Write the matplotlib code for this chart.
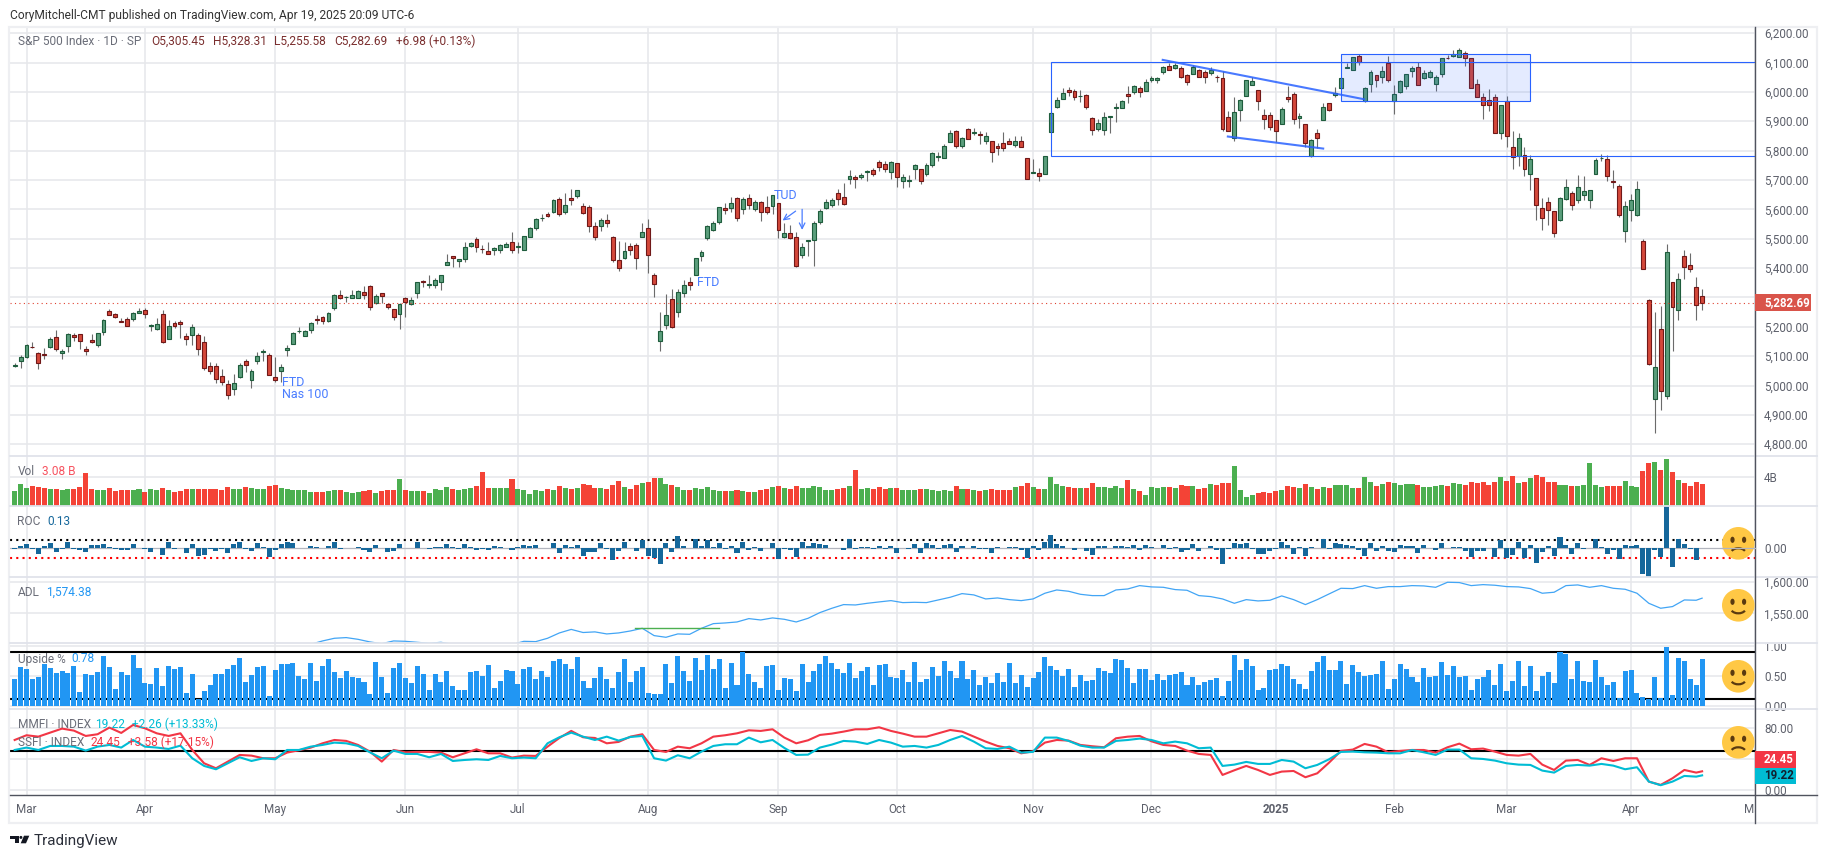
import numpy as np
import matplotlib
matplotlib.use("Agg")
import matplotlib.pyplot as plt
from matplotlib.patches import Rectangle, Ellipse, Arc, Polygon, Circle
from matplotlib.transforms import Bbox

plt.rcParams["font.family"] = ["Roboto", "DejaVu Sans"]

W, H = 1827, 858

# --- S&P 500 daily candles ---
opens = [
    5068, 5085, 5098, 5131, 5110, 5108, 5132, 5164, 5111, 5134,
    5173, 5175, 5123, 5154, 5139, 5181, 5253, 5243, 5220, 5228,
    5226, 5248, 5258, 5204, 5194, 5244, 5158, 5212, 5217, 5167,
    5172, 5171, 5149, 5065, 5068, 5032, 5005, 4988, 5028, 5084,
    5019, 5084, 5114, 5103, 5029, 5049, 5122, 5142, 5187, 5168,
    5189, 5225, 5233, 5221, 5263, 5310, 5303, 5298, 5298, 5319,
    5340, 5281, 5315, 5278, 5259, 5243, 5297, 5278, 5314, 5357,
    5343, 5341, 5353, 5409, 5441, 5424, 5431, 5476, 5499, 5466,
    5459, 5460, 5460, 5473, 5488, 5471, 5461, 5507, 5537, 5572,
    5584, 5591, 5635, 5590, 5638, 5644, 5610, 5608, 5544, 5544,
    5565, 5505, 5428, 5433, 5476, 5478, 5505, 5537, 5376, 5151,
    5206, 5293, 5252, 5314, 5351, 5376, 5442, 5501, 5530, 5557,
    5604, 5603, 5637, 5602, 5639, 5602, 5624, 5607, 5612, 5623,
    5506, 5520, 5507, 5443, 5491, 5496, 5557, 5603, 5615, 5655,
    5641, 5702, 5709, 5711, 5727, 5733, 5762, 5755, 5727, 5757,
    5698, 5698, 5737, 5737, 5719, 5751, 5778, 5775, 5829, 5866,
    5816, 5872, 5859, 5857, 5832, 5834, 5817, 5826, 5833, 5819,
    5833, 5775, 5723, 5725, 5722, 5864, 5947, 5976, 6008, 6003,
    5985, 5989, 5912, 5875, 5870, 5914, 5945, 5944, 5992, 6000,
    6014, 6003, 6040, 6042, 6069, 6089, 6081, 6083, 6057, 6060,
    6074, 6068, 6063, 6052, 6047, 5913, 5842, 5940, 5985, 6024,
    6006, 5920, 5920, 5903, 5891, 5982, 5993, 5911, 5890, 5782,
    5859, 5905, 5962, 5990, 6014, 6081, 6076, 6121, 5969, 6026,
    6057, 6050, 6098, 5969, 6000, 6020, 6071, 6084, 6046, 6050,
    6026, 6060, 6115, 6121, 6118, 6134, 6115, 6026, 5982, 5972,
    5982, 5860, 5968, 5811, 5781, 5785, 5720, 5706, 5604, 5624,
    5594, 5563, 5635, 5655, 5632, 5648, 5632, 5719, 5775, 5771,
    5696, 5679, 5527, 5597, 5580, 5492, 5292, 4953, 5193, 4965,
    5353, 5256, 5441, 5412, 5335, 5305.45,
]
highs = [
    5077, 5104, 5140, 5149, 5114, 5127, 5165, 5189, 5124, 5179,
    5179, 5176, 5136, 5175, 5180, 5226, 5261, 5246, 5229, 5235,
    5250, 5265, 5264, 5209, 5229, 5256, 5222, 5219, 5224, 5178,
    5211, 5178, 5168, 5079, 5078, 5056, 5019, 5038, 5076, 5089,
    5057, 5114, 5124, 5110, 5096, 5073, 5139, 5181, 5200, 5190,
    5215, 5239, 5237, 5250, 5311, 5325, 5306, 5325, 5324, 5340,
    5341, 5311, 5315, 5282, 5260, 5280, 5302, 5302, 5354, 5361,
    5375, 5365, 5376, 5447, 5441, 5432, 5488, 5490, 5505, 5478,
    5490, 5472, 5483, 5490, 5523, 5490, 5509, 5539, 5570, 5583,
    5590, 5635, 5642, 5655, 5670, 5667, 5622, 5614, 5556, 5570,
    5585, 5508, 5491, 5488, 5487, 5487, 5555, 5566, 5383, 5250,
    5313, 5330, 5328, 5360, 5371, 5436, 5463, 5547, 5561, 5608,
    5621, 5643, 5643, 5641, 5651, 5631, 5627, 5646, 5648, 5623,
    5552, 5547, 5522, 5485, 5497, 5561, 5600, 5636, 5637, 5670,
    5689, 5733, 5716, 5725, 5735, 5741, 5767, 5765, 5765, 5757,
    5719, 5718, 5753, 5739, 5757, 5796, 5795, 5822, 5871, 5871,
    5846, 5878, 5878, 5866, 5863, 5834, 5826, 5862, 5842, 5850,
    5850, 5775, 5772, 5741, 5783, 5936, 5983, 6012, 6017, 6010,
    6008, 5993, 5915, 5908, 5932, 5919, 5963, 5972, 6020, 6025,
    6020, 6044, 6053, 6050, 6089, 6099, 6099, 6088, 6061, 6092,
    6079, 6074, 6085, 6057, 6070, 5935, 5982, 5975, 6040, 6050,
    6006, 5941, 5931, 5903, 5948, 6021, 5999, 5927, 5890, 5839,
    5873, 5962, 5962, 6016, 6051, 6100, 6118, 6128, 6016, 6075,
    6057, 6089, 6122, 6024, 6042, 6061, 6089, 6103, 6075, 6075,
    6058, 6115, 6127, 6141, 6149, 6138, 6115, 6044, 5996, 6010,
    5992, 5955, 5987, 5868, 5860, 5814, 5785, 5706, 5638, 5643,
    5594, 5641, 5704, 5661, 5717, 5714, 5667, 5775, 5788, 5786,
    5735, 5687, 5627, 5652, 5697, 5498, 5294, 5249, 5270, 5483,
    5353, 5383, 5462, 5451, 5369, 5328.31,
]
lows = [
    5062, 5061, 5094, 5127, 5056, 5092, 5128, 5117, 5091, 5114,
    5151, 5125, 5104, 5145, 5131, 5171, 5240, 5229, 5216, 5203,
    5219, 5246, 5230, 5184, 5189, 5146, 5157, 5197, 5161, 5138,
    5139, 5103, 5052, 5039, 5008, 5001, 4953, 4969, 5027, 5047,
    4990, 5073, 5085, 5035, 5013, 5011, 5101, 5142, 5178, 5168,
    5180, 5209, 5211, 5217, 5256, 5296, 5284, 5297, 5297, 5295,
    5256, 5278, 5280, 5262, 5222, 5191, 5234, 5273, 5297, 5336,
    5331, 5331, 5327, 5409, 5403, 5403, 5420, 5471, 5455, 5452,
    5447, 5446, 5451, 5471, 5452, 5451, 5461, 5507, 5530, 5562,
    5574, 5586, 5576, 5583, 5614, 5640, 5584, 5522, 5497, 5525,
    5540, 5419, 5390, 5430, 5444, 5397, 5505, 5383, 5302, 5119,
    5193, 5195, 5233, 5300, 5325, 5376, 5425, 5497, 5525, 5550,
    5585, 5591, 5560, 5585, 5600, 5593, 5560, 5583, 5585, 5504,
    5503, 5498, 5402, 5434, 5441, 5406, 5550, 5600, 5607, 5614,
    5615, 5686, 5674, 5705, 5698, 5714, 5729, 5727, 5704, 5677,
    5674, 5677, 5702, 5686, 5714, 5745, 5764, 5775, 5829, 5808,
    5808, 5840, 5852, 5824, 5821, 5762, 5784, 5799, 5823, 5811,
    5811, 5702, 5723, 5696, 5722, 5864, 5945, 5976, 5986, 5971,
    5964, 5942, 5853, 5866, 5853, 5860, 5899, 5944, 5963, 5992,
    5984, 6003, 6035, 6031, 6061, 6075, 6079, 6048, 6024, 6060,
    6051, 6030, 6059, 6035, 5867, 5866, 5832, 5902, 5985, 6023,
    5937, 5873, 5870, 5831, 5890, 5964, 5891, 5877, 5814, 5778,
    5808, 5904, 5935, 5981, 6012, 6080, 6076, 6091, 5964, 5998,
    6015, 6030, 6033, 5925, 5995, 6009, 6050, 6024, 6044, 6047,
    6004, 6052, 6111, 6120, 6118, 6087, 6013, 5982, 5909, 5935,
    5862, 5841, 5814, 5737, 5746, 5715, 5666, 5564, 5530, 5547,
    5507, 5562, 5632, 5598, 5623, 5632, 5606, 5720, 5763, 5698,
    5674, 5575, 5490, 5562, 5576, 5396, 5070, 4838, 4915, 4954,
    5118, 5224, 5362, 5388, 5224, 5255.58,
]
closes = [
    5070, 5096, 5137, 5130, 5078, 5104, 5157, 5123, 5117, 5175,
    5165, 5150, 5117, 5149, 5178, 5224, 5241, 5234, 5218, 5203,
    5248, 5254, 5243, 5205, 5211, 5147, 5204, 5202, 5209, 5160,
    5199, 5123, 5061, 5051, 5022, 5011, 4967, 5010, 5071, 5071,
    5048, 5099, 5116, 5035, 5018, 5064, 5127, 5180, 5187, 5187,
    5214, 5222, 5221, 5246, 5308, 5297, 5303, 5308, 5321, 5307,
    5267, 5304, 5306, 5266, 5235, 5277, 5283, 5291, 5354, 5352,
    5346, 5360, 5375, 5421, 5433, 5431, 5473, 5487, 5473, 5464,
    5447, 5469, 5477, 5482, 5460, 5475, 5509, 5537, 5567, 5572,
    5576, 5633, 5584, 5615, 5631, 5667, 5588, 5544, 5505, 5564,
    5555, 5427, 5399, 5459, 5463, 5436, 5522, 5446, 5346, 5186,
    5240, 5199, 5319, 5344, 5344, 5434, 5455, 5543, 5554, 5608,
    5597, 5620, 5570, 5634, 5616, 5625, 5592, 5591, 5648, 5528,
    5520, 5503, 5408, 5471, 5496, 5554, 5596, 5626, 5633, 5634,
    5618, 5713, 5702, 5718, 5732, 5722, 5745, 5738, 5762, 5709,
    5709, 5699, 5751, 5695, 5751, 5792, 5780, 5815, 5859, 5815,
    5842, 5841, 5864, 5853, 5851, 5797, 5809, 5808, 5823, 5832,
    5813, 5705, 5728, 5712, 5782, 5929, 5973, 5995, 6001, 5983,
    5985, 5949, 5870, 5893, 5916, 5917, 5948, 5969, 5987, 6021,
    5998, 6032, 6047, 6049, 6086, 6075, 6090, 6052, 6034, 6084,
    6051, 6051, 6074, 6050, 5872, 5867, 5930, 5974, 6040, 6037,
    5970, 5906, 5881, 5868, 5942, 5975, 5909, 5918, 5827, 5836,
    5842, 5949, 5937, 5996, 6049, 6086, 6118, 6101, 6012, 6067,
    6039, 6071, 6040, 5994, 6037, 6061, 6083, 6025, 6066, 6068,
    6051, 6115, 6114, 6129, 6144, 6117, 6013, 5983, 5955, 5956,
    5861, 5954, 5849, 5778, 5842, 5738, 5770, 5614, 5572, 5599,
    5521, 5638, 5675, 5614, 5675, 5662, 5667, 5767, 5776, 5712,
    5693, 5580, 5611, 5633, 5670, 5396, 5074, 5062, 4982, 5456,
    5268, 5363, 5405, 5396, 5275, 5282.69,
]

# --- volume, billions ---
volume = [
    2.09, 3.02, 2.51, 2.74, 2.65, 2.51, 2.37, 2.37, 2.23, 2.33,
    2.37, 2.6, 4.56, 2.37, 2.23, 2.23, 2.51, 2.09, 2.19, 2.23,
    2.28, 2.33, 1.95, 2.33, 2.23, 2.51, 2.23, 2.0, 2.14, 2.33,
    2.33, 2.33, 2.37, 2.37, 2.37, 2.23, 2.65, 2.37, 2.33, 2.6,
    2.47, 2.37, 2.33, 2.74, 2.93, 2.47, 2.37, 2.23, 2.23, 2.23,
    1.95, 1.95, 1.95, 2.09, 2.23, 2.19, 1.95, 1.86, 1.91, 2.09,
    2.23, 1.81, 2.05, 2.19, 2.23, 3.72, 2.19, 2.05, 2.05, 2.05,
    1.81, 2.33, 2.28, 2.6, 2.37, 2.23, 2.33, 2.47, 2.79, 4.74,
    2.56, 2.51, 2.51, 2.51, 3.77, 2.37, 2.23, 1.67, 2.19, 2.09,
    2.37, 2.23, 2.84, 2.51, 2.37, 2.51, 3.07, 2.93, 2.51, 2.51,
    2.37, 2.93, 3.49, 2.65, 2.37, 2.93, 3.16, 3.35, 3.91, 3.91,
    3.07, 2.93, 2.65, 2.23, 2.23, 2.51, 2.37, 2.65, 2.23, 2.09,
    2.09, 2.09, 2.23, 2.09, 1.95, 1.95, 2.23, 2.37, 2.65, 2.79,
    2.51, 2.37, 2.79, 2.51, 2.51, 2.79, 2.65, 2.23, 2.23, 2.37,
    2.51, 2.79, 5.02, 2.37, 2.51, 2.37, 2.65, 2.37, 2.51, 2.51,
    2.23, 2.23, 2.23, 2.37, 2.37, 2.23, 2.09, 2.23, 2.09, 2.79,
    2.37, 2.37, 2.23, 2.09, 2.23, 2.37, 2.23, 2.23, 2.23, 2.65,
    2.79, 3.21, 2.65, 2.37, 2.37, 4.05, 3.07, 2.79, 2.65, 2.51,
    2.51, 2.51, 3.21, 2.65, 2.65, 2.51, 2.79, 2.51, 3.63, 2.37,
    2.09, 1.53, 2.65, 2.51, 2.65, 2.65, 2.51, 2.93, 2.79, 2.79,
    2.37, 2.51, 3.07, 2.93, 3.21, 3.21, 5.58, 2.23, 1.26, 1.53,
    1.81, 1.95, 1.81, 2.09, 2.23, 2.74, 2.65, 2.51, 3.07, 2.65,
    2.37, 2.65, 2.51, 2.93, 2.93, 2.93, 2.51, 2.51, 4.05, 3.35,
    2.79, 3.07, 3.35, 3.21, 2.93, 3.07, 3.07, 2.93, 2.65, 2.65,
    2.79, 2.93, 2.79, 3.21, 3.07, 2.93, 3.35, 3.21, 3.35, 2.93,
    3.35, 4.05, 3.49, 4.19, 3.21, 3.35, 3.91, 4.33, 4.05, 3.35,
    3.35, 2.93, 2.93, 2.79, 2.79, 2.93, 6.0, 2.93, 2.65, 2.79,
    2.79, 2.79, 3.49, 2.79, 2.65, 4.88, 6.0, 6.14, 5.02, 6.56,
    4.74, 3.63, 3.21, 2.79, 3.35, 3.07,
]

# --- rate of change, percent ---
roc = [
    -0.17, 0.52, 0.80, -0.12, -1.02, 0.51, 1.03, -0.65, -0.11, 1.12,
    -0.19, -0.29, -0.65, 0.63, 0.56, 0.89, 0.32, -0.14, -0.31, -0.28,
    0.86, 0.11, -0.20, -0.72, 0.11, -1.23, 1.11, -0.04, 0.14, -0.95,
    0.74, -1.46, -1.20, -0.21, -0.58, -0.22, -0.88, 0.87, 1.20, -0.05,
    -0.46, 1.02, 0.32, -1.57, -0.34, 0.91, 1.26, 1.03, 0.13, -0.00,
    0.51, 0.16, -0.02, 0.48, 1.17, -0.21, 0.12, 0.09, 0.25, -0.27,
    -0.74, 0.70, 0.02, -0.74, -0.60, 0.80, 0.11, 0.15, 1.18, -0.02,
    -0.11, 0.26, 0.27, 0.85, 0.23, -0.04, 0.77, 0.25, -0.25, -0.16,
    -0.31, 0.39, 0.16, 0.09, -0.41, 0.27, 0.62, 0.51, 0.54, 0.10,
    0.07, 1.02, -0.88, 0.55, 0.28, 0.64, -1.39, -0.78, -0.71, 1.08,
    -0.16, -2.31, -0.51, 1.11, 0.08, -0.50, 1.58, -1.37, -1.84, -3.00,
    1.04, -0.77, 2.30, 0.47, -0.00, 1.68, 0.38, 1.61, 0.20, 0.97,
    -0.20, 0.42, -0.89, 1.15, -0.32, 0.16, -0.60, -0.00, 1.01, -2.12,
    -0.16, -0.30, -1.73, 1.16, 0.45, 1.07, 0.75, 0.54, 0.13, 0.03,
    -0.29, 1.70, -0.19, 0.28, 0.25, -0.19, 0.40, -0.13, 0.42, -0.93,
    0.01, -0.17, 0.90, -0.96, 0.97, 0.71, -0.21, 0.61, 0.77, -0.76,
    0.47, -0.02, 0.40, -0.18, -0.05, -0.92, 0.21, -0.03, 0.27, 0.16,
    -0.33, -1.86, 0.41, -0.28, 1.23, 2.53, 0.74, 0.38, 0.10, -0.29,
    0.02, -0.60, -1.32, 0.39, 0.40, 0.00, 0.53, 0.35, 0.30, 0.57,
    -0.38, 0.56, 0.24, 0.05, 0.61, -0.19, 0.25, -0.61, -0.30, 0.82,
    -0.54, -0.00, 0.38, -0.39, -2.95, -0.09, 1.09, 0.73, 1.10, -0.04,
    -1.11, -1.07, -0.43, -0.22, 1.26, 0.55, -1.11, 0.16, -1.54, 0.16,
    0.11, 1.83, -0.21, 1.00, 0.88, 0.61, 0.53, -0.29, -1.46, 0.92,
    -0.47, 0.53, -0.50, -0.76, 0.72, 0.39, 0.36, -0.95, 0.67, 0.03,
    -0.27, 1.04, -0.01, 0.24, 0.24, -0.43, -1.71, -0.50, -0.47, 0.01,
    -1.59, 1.59, -1.76, -1.22, 1.12, -1.78, 0.55, -2.70, -0.76, 0.49,
    -1.39, 2.13, 0.64, -1.07, 1.08, -0.22, 0.08, 1.76, 0.16, -1.12,
    -0.33, -1.97, 0.55, 0.38, 0.67, -4.84, -5.97, -0.23, -1.57, 9.52,
    -3.46, 1.81, 0.79, -0.17, -2.24, 0.13,
]

# --- upside volume share ---
upside = [
    .45, .65, .62, .45, .48, .70, .63, .55, .58, .55,
    .67, .23, .53, .52, .57, .83, .65, .28, .57, .52,
    .85, .63, .38, .37, .63, .33, .67, .62, .65, .22,
    .53, .12, .25, .35, .53, .53, .62, .68, .80, .40,
    .52, .65, .67, .17, .60, .70, .70, .72, .50, .45,
    .72, .42, .67, .78, .57, .47, .58, .48, .47, .40,
    .20, .73, .48, .22, .63, .72, .47, .38, .67, .53,
    .27, .53, .40, .58, .33, .27, .27, .57, .58, .50,
    .68, .30, .42, .60, .58, .37, .62, .65, .45, .58,
    .48, .75, .78, .70, .62, .82, .42, .30, .47, .65,
    .45, .30, .57, .78, .40, .58, .65, .22, .20, .20,
    .70, .38, .83, .58, .42, .80, .60, .85, .62, .78,
    .30, .72, .35, .90, .53, .40, .30, .67, .68, .27,
    .47, .45, .25, .70, .40, .58, .70, .83, .72, .62,
    .55, .72, .47, .58, .65, .35, .68, .70, .48, .47,
    .60, .40, .73, .40, .45, .65, .50, .75, .58, .47,
    .75, .45, .60, .35, .48, .38, .55, .40, .72, .38,
    .52, .32, .47, .57, .82, .67, .60, .50, .62, .32,
    .52, .42, .43, .63, .58, .55, .78, .77, .63, .38,
    .62, .62, .43, .53, .43, .52, .53, .57, .35, .48,
    .35, .40, .43, .47, .17, .42, .85, .60, .78, .67,
    .27, .30, .60, .62, .70, .67, .45, .37, .28, .58,
    .73, .83, .60, .60, .75, .37, .68, .57, .50, .52,
    .53, .75, .28, .45, .70, .62, .48, .40, .63, .48,
    .50, .73, .52, .67, .48, .50, .27, .45, .48, .60,
    .35, .70, .25, .42, .75, .33, .67, .25, .50, .57,
    .38, .90, .87, .45, .75, .42, .40, .77, .48, .35,
    .40, .13, .58, .60, .22, .15, .12, .48, .13, .98,
    .18, .80, .75, .45, .35, .78,
]

# --- line panes, read every second bar, plus the last bar ---
line_idx = list(range(0, 285, 2)) + [285]
mmfi = [
    52, 55.1, 52, 57.2, 57.2, 56.3, 51.2, 56.3, 58.5, 55.1,
    64.9, 56.3, 55.1, 53.3, 57.6, 41.3, 31.4, 27.1, 34.8, 42.6,
    37.8, 41.3, 40, 52, 52, 56.3, 58.5, 61.5, 60.6, 57.2,
    49, 41.3, 51.2, 46.9, 46.9, 42.6, 46.9, 37.8, 39.1, 40,
    39.1, 44.3, 41.3, 42.2, 41.3, 60.6, 68.4, 74.4, 69.2, 64.9, 69.2,
    64.1, 68.8, 70.1, 41.3, 38.3, 45.2, 41.3, 49.9, 57.2, 59.4,
    59.4, 68, 61.9, 64.9, 54.6, 45.6, 46, 55.1, 58.9, 63.7,
    62.8, 59.8, 64.9, 61.5, 56.3, 57.2, 55.1, 58.5, 64.9, 70.1,
    62.8, 54.2, 53.3, 56.3, 48.6, 49.5, 68, 68, 63.7, 57.6,
    55.1, 55.1, 63.7, 64.9, 66.7, 64.9, 60.6, 62.8, 60.6, 54.2,
    55.1, 31.4, 33.1, 36.6, 34, 34, 39.1, 37, 28.4, 32.7,
    40, 49.5, 49.9, 49, 48.6, 47.7, 47.7, 52, 49, 45.6,
    52.5, 52.5, 41.3, 40.4, 38.3, 34.8, 33.1, 32.7, 25.4, 22.8,
    31.4, 32.7, 31.8, 34, 31.8, 27.1, 29.7, 11.2, 6.5, 11.2,
    18.5, 17.6, 19.22,
]
ssfi = [
    64.9, 71, 69.2, 74.4, 79.6, 77, 70.1, 72.3, 80.9, 74,
    84.3, 80, 73.5, 70.1, 73.5, 52, 34.8, 28.4, 37, 45.6,
    44.7, 41.3, 41.3, 48.6, 51.6, 55, 60.6, 64.9, 63.7, 58.5,
    49.9, 37, 52, 49, 49.5, 49.5, 48.6, 42.6, 47.7, 52.9,
    47.7, 47.7, 42.2, 44.7, 44.3, 56.3, 67.5, 76.6, 68.4, 67.5, 60.6,
    62.4, 69.2, 72.3, 52, 49.5, 56.3, 54.2, 60.6, 69.2, 71,
    73.5, 77.4, 76.6, 78.7, 68, 60.6, 64.5, 71.4, 73.1, 75.7,
    78.7, 78.7, 81.3, 76.6, 73.1, 69.2, 69.2, 73.5, 77.8, 75.7,
    69.2, 62.8, 57.2, 54.2, 47.7, 50.3, 61.5, 64.9, 64.1, 58.5,
    56.8, 55.5, 67.1, 69.2, 70.1, 63.2, 58.5, 57.2, 51.2, 46.9,
    45.6, 19.8, 25.8, 31.4, 26.2, 19.8, 24.1, 24.9, 16.8, 21.9,
    35.7, 50.8, 52.5, 59.8, 56.3, 49, 50.8, 52, 52, 48.6,
    55.5, 60.2, 52.9, 53.8, 49.9, 45.6, 44.7, 46.9, 33.1, 26.2,
    38.3, 39.1, 32.7, 41.3, 37.8, 41.3, 41.3, 11.2, 6.9, 15.5,
    26.2, 22.8, 24.45,
]
adl_idx = list(range(50, 285, 2)) + [285]
adl = [
    1500, 1505.4, 1509.7, 1510.8, 1508, 1503.8, 1501, 1505.4, 1504.8, 1503.2,
    1501.6, 1503.2, 1500, 1499, 1499, 1499, 1499, 1499.5, 1504.8, 1504.3,
    1509.7, 1518.3, 1524, 1519, 1520, 1516.7,
    1518.3, 1521.5, 1525.8, 1514, 1511.3, 1516.7, 1516.1, 1525.8, 1533.3, 1534.4,
    1536, 1541.4, 1539.2, 1542.5, 1540.3, 1536, 1541.9, 1551.1, 1558, 1564,
    1563.4, 1566.1, 1568.3, 1570.4, 1567.2, 1567.7, 1567.2, 1571.5, 1575.8, 1581.7,
    1579.6, 1573.1, 1574.7, 1572, 1570.4, 1573.1, 1582.3, 1587.6, 1585.5, 1580.6,
    1578.5, 1578.5, 1587.6, 1589.2, 1594.6, 1592.5, 1591.9, 1588.2, 1587.1, 1578.5,
    1576.9, 1573.1, 1566.1, 1572, 1569.9, 1571, 1578, 1572, 1564, 1572,
    1581.2, 1590.3, 1589.8, 1594.6, 1590.3, 1593, 1593, 1594.6, 1594.1, 1591.9,
    1600, 1599.5, 1594.6, 1596.2, 1595.2, 1593, 1592.5, 1589.8, 1582.3, 1583.9,
    1594.6, 1595.7, 1591.9, 1594.6, 1590.3, 1588.7, 1582.3, 1566.1, 1558.1, 1560.8,
    1571.5, 1571, 1574.38,
]

month_idx = [2, 22, 44, 66, 85, 107, 129, 149, 172, 192, 213, 233, 252, 273, 294]
month_labels = ["Mar", "Apr", "May", "Jun", "Jul", "Aug", "Sep", "Oct", "Nov", "Dec",
                "2025", "Feb", "Mar", "Apr", "May"]
price_ticks = list(range(4800, 6201, 100))

GRID = "#E6E7EB"
AXIS = "#50535E"
TEXT = "#5D606B"
BLUE = "#2962FF"
NOTE = "#4A7DFF"
UP_FILL, UP_EDGE = "#5B9E7C", "#1E5C3C"
DN_FILL, DN_EDGE = "#D4483A", "#701818"

PLOT_L, PLOT_R = 10, 1755.4
XLIM = (-0.787, 293.94)

fig = plt.figure(figsize=(W / 100, H / 100), dpi=100)
fig.patch.set_facecolor("white")


def px_box(x0, y0, x1, y1):
    return Bbox([[x0, H - y1], [x1, H - y0]])


def add_pane(top, bottom, ylim, yticks, ylabels):
    ax = fig.add_axes([PLOT_L / W, 1 - bottom / H, (PLOT_R - PLOT_L) / W, (bottom - top) / H])
    ax.set_xlim(*XLIM)
    ax.set_ylim(*ylim)
    ax.set_xticks(month_idx)
    ax.set_yticks(yticks)
    ax.set_yticklabels(ylabels)
    ax.yaxis.tick_right()
    ax.tick_params(axis="y", length=0, pad=6.2, labelsize=8.4, labelcolor=TEXT)
    ax.tick_params(axis="x", length=0, labelbottom=False)
    ax.grid(True, color=GRID, lw=1.1)
    ax.set_axisbelow(True)
    for s in ax.spines.values():
        s.set_visible(False)
    return ax


idx = np.arange(len(closes))
o = np.array(opens)
h = np.array(highs)
l = np.array(lows)
c = np.array(closes)
up = c >= o

# --- price pane ---
ax = add_pane(27, 456, (4760, 6221), price_ticks, [f"{p:,.2f}" for p in price_ticks])
ax.vlines(idx, l, h, color="#6B6B6B", lw=0.8, zorder=3)
ax.bar(idx, np.abs(c - o), bottom=np.minimum(o, c), width=0.66,
       color=np.where(up, UP_FILL, DN_FILL), edgecolor=np.where(up, UP_EDGE, DN_EDGE),
       linewidth=0.8, zorder=4)
ax.axhline(closes[-1], color="#E0402F", lw=0.8, ls=(0, (1, 3)), zorder=5)

ax.add_patch(Rectangle((175, 5781), 130, 322, fill=False, ec=BLUE, lw=0.8, zorder=5))
ax.add_patch(Rectangle((224, 5968), 32, 160, fc=(0.16, 0.38, 1.0, 0.12), ec=BLUE, lw=0.8, zorder=5))
ax.plot([193.9, 227.9], [6109, 5975], color=BLUE, lw=1.5, alpha=0.85, zorder=5)
ax.plot([204.9, 221], [5848, 5807], color=BLUE, lw=1.5, alpha=0.85, zorder=5)

for xt, yt, s in [(45.1, 5010, "FTD"), (45.1, 4969, "Nas 100"), (115.2, 5351, "FTD"), (128.2, 5647, "TUD")]:
    ax.text(xt, yt, s, color=NOTE, fontsize=9, va="center", ha="left", zorder=6)
ax.annotate("", xy=(129.7, 5562), xytext=(131.9, 5594),
            arrowprops=dict(arrowstyle="->", color=NOTE, lw=0.9, shrinkA=0, shrinkB=0), zorder=6)
ax.annotate("", xy=(133, 5530), xytext=(133, 5600),
            arrowprops=dict(arrowstyle="->", color=NOTE, lw=0.9, shrinkA=0, shrinkB=0), zorder=6)

# --- volume pane ---
ax_vol = add_pane(456, 506, (0, 6.98), [4], ["4B"])
ax_vol.bar(idx, volume, width=0.85, color=np.where(up, "#4CAF50", "#F44336"), zorder=3)

# --- ROC pane ---
ax_roc = add_pane(506, 577.3, (-5.5, 8.03), [0], ["0.00"])
ax_roc.grid(False, axis="y")
ax_roc.axhline(0, color="#B2B5BE", lw=0.9, zorder=1)
ax_roc.axhline(1.58, color="black", lw=1.5, ls=(0, (1, 2)), zorder=2)
ax_roc.axhline(-1.84, color="#FF0000", lw=1.5, ls=(0, (1, 2)), zorder=2)
ax_roc.bar(idx, roc, width=0.85, color="#15679B", zorder=3)

# --- ADL pane ---
ax_adl = add_pane(577.3, 643.3, (1501.6, 1608), [1600, 1550], ["1,600.00", "1,550.00"])
ax_adl.plot(adl_idx, adl, color="#42A5F5", lw=0.9, zorder=3)
ax_adl.plot([104.8, 118.9], [1525.8, 1525.8], color="#4CAF50", lw=1.0, zorder=4)

# --- upside pane ---
ax_up = add_pane(643.3, 709.3, (-0.055, 1.045), [1, 0.5, 0], ["1.00", "0.50", "0.00"])
ax_up.axhline(0.906, color="black", lw=1.5, zorder=2)
ax_up.axhline(0.12, color="black", lw=1.5, zorder=2)
ax_up.bar(idx, upside, width=0.85, color="#2196F3", zorder=3)

# --- breadth pane ---
ax_br = add_pane(709.3, 795.3, (-6.5, 104.5), [80, 40, 0], ["80.00", "", "0.00"])
ax_br.axhline(50.7, color="black", lw=1.5, zorder=2)
ax_br.plot(line_idx, ssfi, color="#F23645", lw=1.5, zorder=3)
ax_br.plot(line_idx, mmfi, color="#00BCD4", lw=1.5, zorder=4)
ax_br.tick_params(axis="x", labelbottom=True, pad=5.5, labelsize=8.4, labelcolor=TEXT)
ax_br.set_xticklabels(month_labels)
for lab, name in zip(ax_br.get_xticklabels(), month_labels):
    if name == "2025":
        lab.set_fontweight("bold")
    lab.set_clip_on(True)
    lab.set_clip_box(px_box(0, 796, PLOT_R, 823))

for pane, top in [(ax_adl, 578.3), (ax_up, 644.3)]:
    for lab in pane.get_yticklabels():
        lab.set_clip_on(True)
        lab.set_clip_box(px_box(PLOT_R, top, W, top + 70))

# --- everything in figure pixels: frame, axis lines, legends, faces ---
ov = fig.add_axes([0, 0, 1, 1], zorder=10)
ov.set_xlim(0, W)
ov.set_ylim(H, 0)
ov.axis("off")
ov.patch.set_alpha(0)

ov.add_patch(Rectangle((9, 26.5), 1808, 796.5, fill=False, ec="#EEEFF2", lw=1.6))
for y in [456, 506, 577.3, 643.3, 709.3]:
    ov.plot([PLOT_L, 1817], [y, y], color="#E0E3EB", lw=1.3)
ov.plot([PLOT_L, 1817], [795.3, 795.3], color=AXIS, lw=1.0)
ov.plot([PLOT_R, PLOT_R], [27, 823], color=AXIS, lw=1.0)


def label(x, y, s, color=TEXT, size=8.6, **kw):
    ov.text(x, y, s, color=color, fontsize=size, va="center", ha="left", **kw)


def price_tag(y0, y1, x1, fc, tc, s, bold=True):
    ov.add_patch(Rectangle((PLOT_R, y0), x1 - PLOT_R, y1 - y0, fc=fc, ec="none", zorder=5))
    ov.text(1764, (y0 + y1) / 2, s, color=tc, fontsize=8.3, va="center", ha="left",
            fontweight="bold" if bold else "normal", zorder=6)


def face(cy, happy):
    cx = 1738.3
    ov.add_patch(Ellipse((cx, cy), 32.6, 32.6, fc="#FFC845", ec="none", zorder=4))
    ov.add_patch(Ellipse((cx - 5.8, cy - 3.5), 4.2, 6.2, fc="#5A3A10", ec="none", zorder=5))
    ov.add_patch(Ellipse((cx + 5.8, cy - 3.5), 4.2, 6.2, fc="#5A3A10", ec="none", zorder=5))
    if happy:
        ov.add_patch(Arc((cx, cy + 3), 15, 10, theta1=20, theta2=160, ec="#5A3A10", lw=1.6, zorder=5))
    else:
        ov.add_patch(Arc((cx, cy + 10), 15, 10, theta1=200, theta2=340, ec="#5A3A10", lw=1.6, zorder=5))


face(543.3, False)
ov.plot([1722, 1755], [548.3, 548.3], color="#B2B5BE", lw=0.9, zorder=6)
face(605.3, True)
face(676.3, True)
face(742.3, False)

price_tag(294.3, 311, 1810.7, "#D9544A", "white", f"{closes[-1]:,.2f}")
price_tag(751, 767.5, 1796, "#F23645", "white", "24.45")
price_tag(767.5, 784, 1796, "#00BCD4", "#102030", "19.22")

label(10, 15, "CoryMitchell-CMT published on TradingView.com, Apr 19, 2025 20:09 UTC-6", "#333333", 8.65)
label(17.5, 41.7, "S&P 500 Index · 1D · SP", "#6A6D78")
OHLC = "#7A2E2E"
label(151, 41.7, "O5,305.45", OHLC)
label(213, 41.7, "H5,328.31", OHLC)
label(274, 41.7, "L5,255.58", OHLC)
label(334.6, 41.7, "C5,282.69", OHLC)
label(395.7, 41.7, "+6.98 (+0.13%)", OHLC)

label(17.5, 471.7, "Vol", "#6A6D78")
label(41.6, 471.7, "3.08 B", "#F7525F")
label(17.5, 521.7, "ROC", "#6A6D78")
label(47.5, 521.7, "0.13", "#15679B")
label(17.5, 592.7, "ADL", "#6A6D78")
label(46.3, 592.7, "1,574.38", "#2196F3")
label(17.5, 659, "Upside %", "#6A6D78")
label(71.6, 659, "0.78", "#2196F3")
label(17.5, 724.7, "MMFI · INDEX", "#6A6D78")
label(95.3, 724.7, "19.22", "#00BCD4")
label(132.3, 724.7, "+2.26 (+13.33%)", "#00BCD4")
label(17.5, 742, "SSFI · INDEX", "#6A6D78")
label(90.3, 742, "24.45", "#F23645")
label(127.6, 742, "+3.58 (+17.15%)", "#F23645")

# --- logo ---
LOGO = "#131722"
ov.add_patch(Rectangle((10, 835.7), 9, 3.0, fc=LOGO, ec="none"))
ov.add_patch(Rectangle((14.5, 835.7), 4.5, 7.6, fc=LOGO, ec="none"))
ov.add_patch(Circle((20.9, 837.4), 1.5, fc=LOGO, ec="none"))
ov.add_patch(Polygon([(24, 835.7), (29.3, 835.7), (26, 843.3), (20.7, 843.3)], fc=LOGO, ec="none"))
label(33.5, 841, "TradingView", "#2A2E39", 11)

fig.savefig("out.png", dpi=100, facecolor="white")
